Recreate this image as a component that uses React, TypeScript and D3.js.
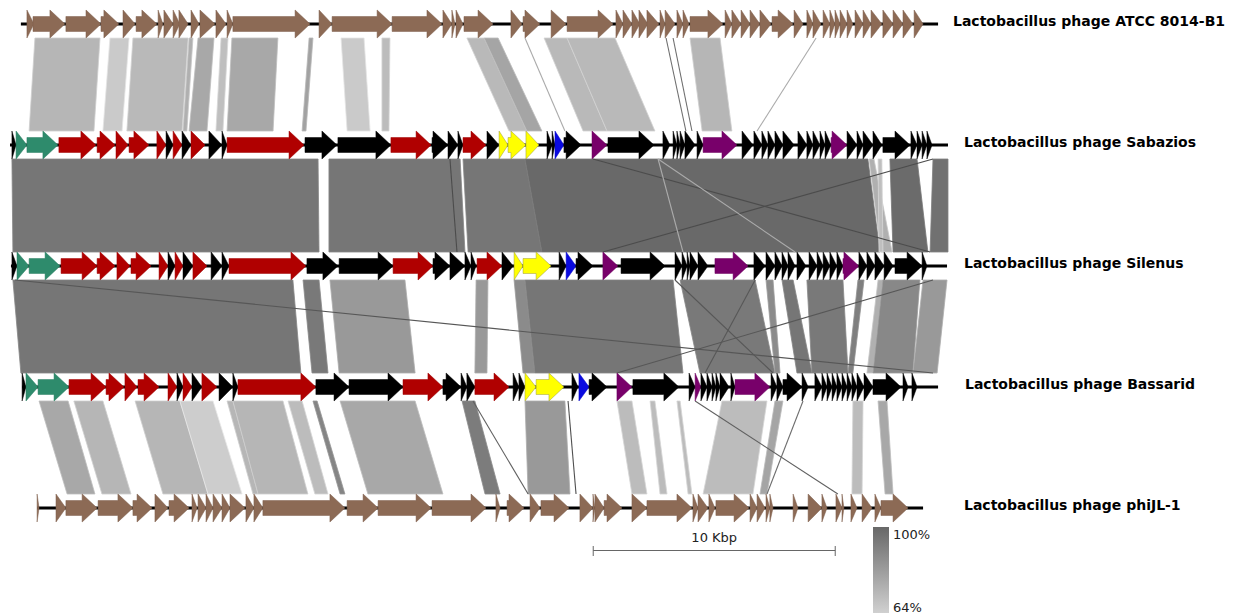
import React from "react";
import * as d3 from "d3";

// genome names, top to bottom
const trackNames = [
  "Lactobacillus phage ATCC 8014-B1",
  "Lactobacillus phage Sabazios",
  "Lactobacillus phage Silenus",
  "Lactobacillus phage Bassarid",
  "Lactobacillus phage phiJL-1",
];

// backbone of each genome (kbp, in the common alignment frame)
const genomeSpans: [number, number][] = [
  [0.45, 38.35],
  [0.0, 38.76],
  [0.04, 38.72],
  [0.5, 38.35],
  [1.12, 37.73],
];

// genes: [start, end, category] in kbp
// categories: n = brown (unannotated ref), g = green, r = red, k = black, y = yellow, b = blue, p = purple
const genesATCC: [number, number, string][] = [
  [0.7, 0.99, "n"], [0.95, 2.27, "n"], [2.31, 3.76, "n"], [3.76, 4.5, "n"], [4.67, 5.17, "n"],
  [5.21, 6.07, "n"], [6.12, 6.32, "n"], [6.36, 6.74, "n"], [6.74, 7.02, "n"], [6.98, 7.36, "n"],
  [7.48, 7.81, "n"], [7.85, 8.47, "n"], [8.51, 8.93, "n"], [8.97, 9.21, "n"], [9.21, 12.4, "n"],
  [12.77, 13.31, "n"], [13.31, 15.79, "n"], [15.79, 17.85, "n"], [17.89, 18.26, "n"], [18.26, 18.39, "n"],
  [18.43, 18.72, "n"], [18.76, 19.96, "n"], [20.7, 21.16, "n"], [21.2, 21.9, "n"], [22.36, 22.98, "n"],
  [23.02, 24.92, "n"], [25.04, 25.33, "n"], [25.33, 25.7, "n"], [25.7, 26.03, "n"], [25.99, 26.36, "n"],
  [26.32, 26.82, "n"], [26.86, 27.07, "n"], [27.07, 27.48, "n"], [27.56, 27.81, "n"], [27.81, 28.06, "n"],
  [28.1, 29.46, "n"], [29.55, 29.83, "n"], [29.83, 30.21, "n"], [30.21, 30.58, "n"], [30.58, 30.99, "n"],
  [30.99, 31.45, "n"], [31.49, 32.36, "n"], [32.4, 32.77, "n"], [32.93, 33.18, "n"], [33.18, 33.51, "n"],
  [33.6, 33.88, "n"], [33.88, 34.09, "n"], [34.09, 34.3, "n"], [34.3, 34.59, "n"], [34.59, 34.83, "n"],
  [34.92, 35.25, "n"], [35.25, 35.58, "n"], [35.58, 36.03, "n"], [36.07, 36.49, "n"], [36.49, 36.9, "n"],
  [36.9, 37.31, "n"], [37.36, 37.73, "n"],
];

const genesSabazios: [number, number, string][] = [
  [0.08, 0.25, "k"], [0.25, 0.7, "g"], [0.7, 1.98, "g"], [2.02, 3.55, "r"], [3.6, 4.34, "r"],
  [4.38, 4.88, "r"], [4.92, 5.74, "r"], [6.07, 6.45, "r"], [6.45, 6.74, "k"], [6.74, 7.11, "r"],
  [7.11, 7.48, "k"], [7.48, 8.06, "r"], [8.22, 8.76, "k"], [8.76, 8.97, "k"], [8.97, 12.15, "r"],
  [12.19, 13.51, "k"], [13.55, 15.74, "k"], [15.74, 17.4, "r"], [17.44, 18.1, "k"], [18.1, 18.51, "k"],
  [18.51, 18.72, "k"], [18.72, 19.67, "r"], [19.71, 20.21, "k"], [20.21, 20.58, "y"], [20.58, 21.32, "y"],
  [21.32, 21.86, "y"], [22.19, 22.4, "k"], [22.4, 22.52, "k"], [22.52, 22.89, "b"], [22.89, 23.6, "k"],
  [24.05, 24.67, "p"], [24.71, 26.61, "k"], [26.98, 27.27, "k"], [27.4, 27.56, "k"], [27.56, 27.69, "k"],
  [27.69, 27.89, "k"], [27.89, 28.31, "k"], [28.39, 28.64, "k"], [28.64, 30.04, "p"], [30.25, 30.7, "k"],
  [30.74, 31.07, "k"], [31.07, 31.32, "k"], [31.32, 31.61, "k"], [31.61, 31.94, "k"], [31.94, 32.4, "k"],
  [32.56, 32.93, "k"], [32.93, 33.18, "k"], [33.18, 33.47, "k"], [33.47, 33.68, "k"], [33.68, 33.93, "k"],
  [33.93, 34.59, "p"], [34.59, 35.0, "k"], [35.0, 35.25, "k"], [35.25, 35.66, "k"], [35.66, 36.03, "k"],
  [36.07, 37.19, "k"], [37.23, 37.48, "k"], [37.48, 37.69, "k"], [37.69, 37.89, "k"], [37.89, 38.1, "k"],
];

const genesSilenus: [number, number, string][] = [
  [0.08, 0.29, "k"], [0.29, 0.79, "g"], [0.79, 2.07, "g"], [2.11, 3.6, "r"], [3.6, 4.34, "r"],
  [4.42, 4.96, "r"], [5.0, 5.83, "r"], [6.16, 6.53, "r"], [6.53, 6.82, "k"], [6.82, 7.15, "r"],
  [7.15, 7.56, "k"], [7.56, 8.14, "r"], [8.31, 8.76, "k"], [8.76, 9.05, "k"], [9.05, 12.23, "r"],
  [12.27, 13.55, "k"], [13.6, 15.83, "k"], [15.83, 17.48, "r"], [17.48, 18.18, "k"], [18.18, 18.8, "k"],
  [18.8, 19.05, "k"], [19.05, 19.26, "k"], [19.3, 20.33, "r"], [20.33, 20.79, "k"], [20.83, 21.2, "y"],
  [21.2, 22.36, "y"], [22.69, 22.98, "k"], [22.98, 23.39, "b"], [23.39, 24.09, "k"], [24.5, 25.12, "p"],
  [25.25, 27.07, "k"], [27.48, 27.77, "k"], [27.77, 27.98, "k"], [27.98, 28.1, "k"], [28.1, 28.43, "k"],
  [28.43, 28.84, "k"], [29.13, 30.5, "p"], [30.74, 31.2, "k"], [31.24, 31.61, "k"], [31.61, 31.9, "k"],
  [31.9, 32.15, "k"], [32.15, 32.44, "k"], [32.52, 32.89, "k"], [33.02, 33.35, "k"], [33.35, 33.6, "k"],
  [33.6, 33.88, "k"], [33.88, 34.17, "k"], [34.17, 34.42, "k"], [34.42, 35.08, "p"], [35.08, 35.41, "k"],
  [35.41, 35.74, "k"], [35.74, 36.12, "k"], [36.12, 36.49, "k"], [36.57, 37.69, "k"], [37.69, 37.89, "k"],
];

const genesBassarid: [number, number, string][] = [
  [0.5, 0.66, "k"], [0.66, 1.16, "g"], [1.16, 2.44, "g"], [2.44, 3.97, "r"], [3.97, 4.71, "r"],
  [4.75, 5.25, "r"], [5.29, 6.16, "r"], [6.53, 6.9, "r"], [6.9, 7.15, "k"], [7.15, 7.52, "r"],
  [7.52, 7.93, "k"], [7.93, 8.55, "r"], [8.64, 9.21, "k"], [9.21, 9.42, "k"], [9.42, 12.64, "r"],
  [12.64, 14.01, "k"], [14.01, 16.24, "k"], [16.24, 17.89, "r"], [17.89, 18.64, "k"], [18.64, 18.88, "k"],
  [18.88, 19.21, "k"], [19.21, 20.62, "r"], [20.79, 21.03, "k"], [21.03, 21.28, "k"], [21.28, 21.74, "y"],
  [21.74, 22.89, "y"], [23.22, 23.47, "k"], [23.51, 23.93, "b"], [23.93, 24.67, "k"], [25.08, 25.7, "p"],
  [25.74, 27.64, "k"], [28.06, 28.31, "k"], [28.31, 28.55, "p"], [28.55, 28.8, "k"], [28.8, 29.01, "k"],
  [29.01, 29.17, "k"], [29.17, 29.34, "k"], [29.34, 29.71, "k"], [29.79, 29.96, "k"], [29.96, 31.4, "p"],
  [31.45, 31.69, "k"], [31.69, 31.94, "k"], [31.94, 32.73, "k"], [32.73, 32.98, "k"], [33.26, 33.55, "k"],
  [33.55, 33.76, "k"], [33.76, 33.97, "k"], [33.97, 34.17, "k"], [34.17, 34.38, "k"], [34.38, 34.59, "k"],
  [34.59, 34.79, "k"], [34.79, 35.0, "k"], [35.0, 35.29, "k"], [35.29, 35.66, "k"], [35.66, 36.82, "k"],
  [36.9, 37.11, "k"], [37.27, 37.48, "k"],
];

const genesPhiJL1: [number, number, string][] = [
  [1.12, 1.2, "n"], [1.9, 2.31, "n"], [2.31, 3.6, "n"], [3.64, 5.08, "n"], [5.08, 5.87, "n"],
  [5.99, 6.53, "n"], [6.57, 7.4, "n"], [7.52, 7.73, "n"], [7.77, 8.1, "n"], [8.1, 8.39, "n"],
  [8.39, 8.76, "n"], [8.76, 9.09, "n"], [9.09, 9.71, "n"], [9.75, 10.08, "n"], [10.08, 10.45, "n"],
  [10.45, 13.84, "n"], [13.93, 15.21, "n"], [15.21, 17.4, "n"], [17.44, 19.67, "n"], [20.08, 20.25, "n"],
  [20.54, 21.24, "n"], [21.49, 21.9, "n"], [21.94, 23.1, "n"], [23.55, 24.09, "n"], [24.09, 24.17, "n"],
  [24.17, 24.55, "n"], [24.55, 25.29, "n"], [25.7, 26.32, "n"], [26.32, 28.18, "n"], [28.22, 28.43, "n"],
  [28.43, 28.84, "n"], [28.88, 29.13, "n"], [29.17, 30.54, "n"], [30.58, 30.87, "n"], [30.87, 31.2, "n"],
  [31.24, 31.4, "n"], [31.4, 31.53, "n"], [32.36, 32.56, "n"], [32.98, 33.55, "n"], [33.55, 33.76, "n"],
  [34.13, 34.38, "n"], [34.38, 34.46, "n"], [34.75, 35.0, "n"], [35.21, 35.62, "n"], [35.74, 35.99, "n"],
  [35.99, 37.11, "n"],
];

const trackGenes = [genesATCC, genesSabazios, genesSilenus, genesBassarid, genesPhiJL1];

// blast hits between neighbouring genomes: [topStart, topEnd, bottomStart, bottomEnd, identity %]
const hits12: number[][] = [
  [1.03, 3.72, 0.79, 3.47, 73], [4.13, 4.92, 3.84, 4.63, 66], [5.08, 7.36, 4.83, 7.11, 72],
  [7.4, 7.56, 7.15, 7.31, 75], [7.77, 8.43, 7.4, 8.14, 78], [8.72, 9.01, 8.51, 8.8, 70],
  [9.17, 11.07, 8.97, 10.87, 78], [12.36, 12.52, 12.07, 12.23, 80], [13.68, 14.63, 13.93, 14.88, 66],
  [15.37, 15.7, 15.37, 15.66, 71], [18.88, 19.59, 20.62, 21.36, 72], [19.59, 20.17, 21.36, 21.98, 79],
  [22.07, 23.02, 23.68, 24.67, 72], [23.02, 25.0, 24.67, 26.65, 72], [28.1, 29.34, 28.6, 29.83, 73],
];
const hits23: number[][] = [
  [0.08, 12.73, 0.12, 12.77, 95], [13.18, 18.6, 13.18, 18.8, 95], [18.72, 21.28, 18.93, 21.98, 95],
  [21.28, 35.45, 21.98, 35.95, 99.5], [35.5, 35.7, 35.99, 36.45, 75], [35.87, 36.03, 35.91, 36.07, 70],
  [36.36, 37.48, 36.49, 37.93, 99], [38.14, 38.76, 38.02, 38.76, 97],
];
const hits34: number[][] = [
  [0.12, 11.69, 0.45, 12.02, 95], [12.11, 12.77, 12.48, 13.14, 94], [13.22, 16.32, 13.6, 16.74, 83],
  [19.26, 19.75, 19.21, 19.71, 83], [20.83, 21.28, 21.2, 21.69, 88], [21.28, 27.4, 21.69, 27.81, 95],
  [27.69, 30.79, 28.51, 31.61, 94], [31.24, 31.53, 31.61, 31.82, 88], [31.9, 32.36, 32.52, 33.14, 95],
  [32.93, 34.42, 33.14, 34.63, 94], [35.04, 35.29, 34.63, 34.83, 92], [35.87, 36.07, 35.41, 35.66, 75],
  [36.07, 37.6, 35.66, 37.31, 89], [37.73, 38.72, 37.31, 38.31, 83],
];
const hits45: number[][] = [
  [1.2, 2.4, 2.36, 3.51, 78], [2.64, 3.84, 3.8, 5.0, 73], [5.17, 7.02, 6.32, 8.18, 73],
  [7.02, 8.39, 8.18, 9.59, 65], [8.97, 9.21, 10.04, 10.25, 73], [9.21, 11.28, 10.25, 12.31, 73],
  [11.49, 12.07, 12.6, 13.14, 71], [12.52, 12.69, 13.64, 13.84, 90], [13.64, 16.74, 14.79, 17.89, 78],
  [18.68, 19.21, 19.63, 20.25, 93], [21.28, 22.93, 21.41, 23.14, 83], [25.08, 25.7, 25.7, 26.32, 71],
  [26.45, 26.65, 26.86, 27.15, 71], [27.56, 27.69, 28.02, 28.18, 71], [29.42, 31.28, 28.64, 30.7, 71],
  [31.61, 31.94, 30.99, 31.28, 79], [34.83, 35.25, 34.79, 35.21, 71], [35.87, 36.24, 36.16, 36.49, 78],
];
const hitBlocks = [hits12, hits23, hits34, hits45];

// very short hits drawn as single strokes: [topPos, bottomPos, identity %]
const links12: number[][] = [[21.28, 22.93, 72], [27.11, 27.93, 88], [27.4, 28.18, 88], [33.31, 30.87, 72]];
const links23: number[][] = [[18.18, 18.47, 99], [24.09, 38.02, 99], [38.14, 24.5, 99], [26.78, 32.44, 72], [26.78, 27.81, 72]];
const links34: number[][] = [[0.21, 38.14, 95], [38.14, 25.08, 95], [27.48, 31.53, 95], [30.79, 28.72, 95]];
const links45: number[][] = [[19.13, 21.41, 92], [23.06, 23.39, 98], [28.31, 34.21, 92], [32.77, 31.28, 88]];
const linkBlocks = [links12, links23, links34, links45];

const identityRange = [64, 100];
const scaleBarKbp = [24.1, 34.1];

const geneColors: Record<string, string> = {
  n: "#8c6a55",
  g: "#2e8b6c",
  r: "#b00000",
  k: "#000000",
  y: "#ffff00",
  b: "#0a0ae0",
  p: "#78006a",
};

export default function App() {
  const width = 1238;
  const height = 615;
  const x = d3.scaleLinear().domain([0, 10]).range([10, 252]);
  const rowY = d3.scaleLinear().domain([0, 4]).range([24, 508]);
  const grey = d3
    .scaleLinear<string>()
    .domain(identityRange)
    .range(["#d0d0d0", "#686868"])
    .clamp(true);

  const headHalf = 14;
  const shaftHalf = 7.5;

  const arrow = (s: number, e: number, y: number) => {
    const x0 = x(s);
    const x1 = x(e);
    const head = Math.min(15, x1 - x0);
    const xs = x1 - head;
    return `M${x0},${y - shaftHalf}L${xs},${y - shaftHalf}L${xs},${y - headHalf}L${x1},${y}L${xs},${y + headHalf}L${xs},${y + shaftHalf}L${x0},${y + shaftHalf}Z`;
  };

  return (
    <svg
      width={width}
      height={height}
      style={{ position: "absolute", left: 0, top: 0, background: "#fff" }}
      fontFamily="'DejaVu Sans', Verdana, sans-serif"
    >
      <defs>
        <linearGradient id="idGrad" x1="0" y1="0" x2="0" y2="1">
          <stop offset="0%" stopColor={grey(identityRange[1])} />
          <stop offset="100%" stopColor={grey(identityRange[0])} />
        </linearGradient>
      </defs>

      {/* hit polygons */}
      {hitBlocks.map((block, i) => {
        const yT = rowY(i) + headHalf;
        const yB = rowY(i + 1) - headHalf;
        return (
          <g key={"h" + i}>
            {block.map((h, j) => {
              const c = grey(h[4]);
              const pts = [
                [x(h[0]), yT],
                [x(h[1]), yT],
                [x(h[3]), yB],
                [x(h[2]), yB],
              ];
              return (
                <polygon
                  key={j}
                  points={pts.map((p) => p.join(",")).join(" ")}
                  fill={c}
                  stroke={d3.color(c)!.brighter(0.35).toString()}
                  strokeWidth={0.8}
                />
              );
            })}
            {linkBlocks[i].map((l, j) => (
              <line
                key={"l" + j}
                x1={x(l[0])}
                y1={yT}
                x2={x(l[1])}
                y2={yB}
                stroke={d3.color(grey(l[2]))!.darker((l[2] - identityRange[0]) / 36).toString()}
                strokeWidth={1.1}
              />
            ))}
          </g>
        );
      })}

      {/* genomes */}
      {trackNames.map((name, i) => {
        const y = rowY(i);
        const span = genomeSpans[i];
        return (
          <g key={name}>
            <line x1={x(span[0])} x2={x(span[1])} y1={y} y2={y} stroke="#000" strokeWidth={3} />
            {trackGenes[i].map((g, j) => (
              <path
                key={j}
                d={arrow(g[0], g[1], y)}
                fill={geneColors[g[2]]}
                stroke={g[2] === "y" ? "#9a9a40" : d3.color(geneColors[g[2]])!.darker(0.3).toString()}
                strokeWidth={0.5}
              />
            ))}
            <text
              x={i === 0 ? 953 : i === 3 ? 965 : 964}
              y={y + 1.5}
              fontSize={14}
              fontWeight="bold"
              fill="#000"
            >
              {name}
            </text>
          </g>
        );
      })}

      {/* scale bar */}
      <g stroke="#666" strokeWidth={1}>
        <line x1={x(scaleBarKbp[0])} x2={x(scaleBarKbp[1])} y1={550.5} y2={550.5} />
        <line x1={x(scaleBarKbp[0])} x2={x(scaleBarKbp[0])} y1={546} y2={556} />
        <line x1={x(scaleBarKbp[1])} x2={x(scaleBarKbp[1])} y1={546} y2={556} />
      </g>
      <text
        x={(x(scaleBarKbp[0]) + x(scaleBarKbp[1])) / 2}
        y={542}
        textAnchor="middle"
        fontSize={13}
        fill="#222"
      >
        {`${Math.round(scaleBarKbp[1] - scaleBarKbp[0])} Kbp`}
      </text>

      {/* identity legend */}
      <rect x={873} y={527} width={16} height={86} fill="url(#idGrad)" />
      <text x={893} y={539} fontSize={13} fill="#222">{`${identityRange[1]}%`}</text>
      <text x={893} y={612} fontSize={13} fill="#222">{`${identityRange[0]}%`}</text>
    </svg>
  );
}
